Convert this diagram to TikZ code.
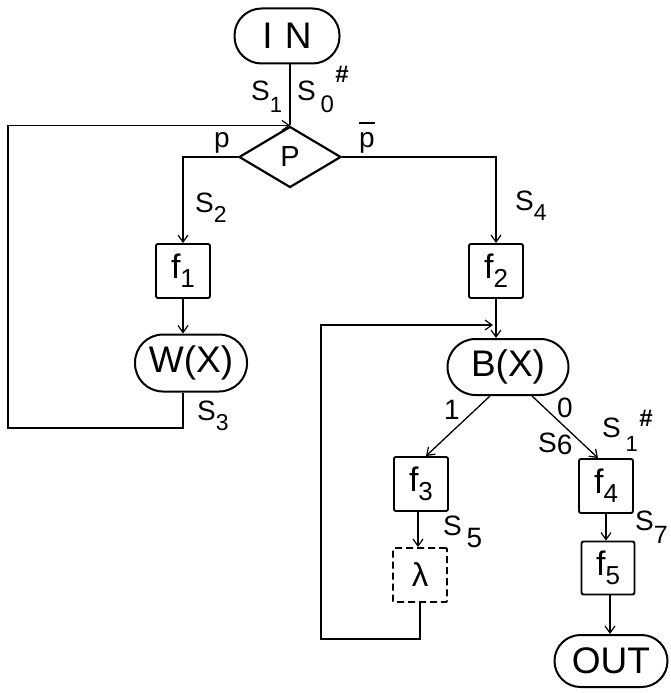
\documentclass[tikz,border=0pt]{standalone}
\usepackage{fontspec}
\setmainfont{Liberation Sans}
\usetikzlibrary{shapes.geometric,arrows.meta}
\newcommand\lowr[3]{\raisebox{-#1}{\fontsize{#2}{#2}\selectfont #3}}
\newcommand\pbar{{\setbox0\hbox{p}\rlap{\raisebox{\dimexpr\ht0+8pt\relax}{\rule{\wd0}{1.6pt}}}p}}
\begin{document}
\begin{tikzpicture}[x=1pt,y=-1pt,
  pill/.style={draw,line width=2pt,inner sep=0pt,font=\fontsize{37}{37}\selectfont},
  fbox/.style={draw,line width=1.9pt,rounded corners=2pt,inner sep=0pt,minimum width=54pt,minimum height=54pt,font=\fontsize{34}{34}\selectfont},
  dia/.style={draw,diamond,line width=2.2pt,inner sep=0pt,minimum width=102pt,minimum height=61pt,font=\fontsize{29}{29}\selectfont},
  conn/.style={line width=1.3pt},
  arr/.style={conn,-{Straight Barb[length=7pt,width=10pt,line width=1.2pt]}},
  lbl/.style={font=\fontsize{28}{28}\selectfont,inner sep=0pt},
  hash/.style={font=\fontsize{24}{24}\selectfont\bfseries,inner sep=0pt},
]
\useasboundingbox (0,0) rectangle (670,693);

% nodes
\node[pill,rounded corners=27pt,minimum width=105pt,minimum height=55pt] (IN) at (287,36) {I\,\,N};
\node[dia] (P) at (290,157) {P};
\node[fbox] (f1) at (183,271) {f\lowr{9pt}{26}{1}};
\node[pill,rounded corners=28pt,minimum width=112pt,minimum height=57pt] (WX) at (191,363) {W(X)};
\node[fbox] (f2) at (496,271) {f\lowr{9pt}{26}{2}};
\node[pill,rounded corners=28pt,minimum width=121pt,minimum height=56pt] (BX) at (508,367) {B(X)};
\node[fbox] (f3) at (421,484) {f\lowr{9pt}{26}{3}};
\node[fbox] (f4) at (606,486) {f\lowr{9pt}{26}{4}};
\node[fbox,dashed,dash pattern=on 7pt off 4pt,rounded corners=1pt,font=\fontsize{33}{33}\selectfont] (lam) at (420,575) {λ};
\node[fbox,minimum width=53pt,minimum height=53pt] (f5) at (608,568) {f\lowr{9pt}{26}{5}};
\node[pill,rounded corners=26pt,minimum width=113pt,minimum height=52pt] (OUT) at (611,661) {OUT};

\coordinate (lb1) at (8,428);
\coordinate (lb2) at (321,639);
\coordinate (j2) at (493,325);

% connectors
\draw[conn] (IN.south -| P.north) -- (P.north);
\draw[arr] (WX.south -| f1.south) |- (lb1) |- (P.north);
\draw[arr] (P.west) -| (f1.north);
\draw[arr] (P.east) -| (f2.north);
\draw[arr] (f1.south) -- (f1.south |- WX.north);
\draw[arr] (f2.south) -- (f2.south |- BX.north);
\draw[arr] ([xshift=-18pt]BX.south) -- ([xshift=5pt]f3.north);
\draw[arr] ([xshift=24pt]BX.south) -- ([xshift=-8pt]f4.north);
\draw[arr] ([xshift=-3pt]f3.south) -- ([xshift=-3pt]f3.south |- lam.north);
\draw[arr] (lam.south) |- (lb2) |- (j2);
\draw[arr] (f4.south) -- (f4.south |- f5.north);
\draw[arr] ([xshift=2pt]f5.south) -- ([xshift=2pt]f5.south |- OUT.north);

% labels
\node[lbl,anchor=base west] (lS1) at (251,100) {S\lowr{12pt}{22}{1}};
\node[lbl,anchor=base west] (lS0) at (297,100) {S\,\lowr{12pt}{24}{0}};
\node[hash] (h0) at (342,74) {\#};
\node[lbl,anchor=base] (lp) at (222,147) {p};
\node[lbl,anchor=base] (lpb) at (367,147) {\pbar};
\node[lbl,anchor=base west] (lS2) at (195,212) {S\lowr{10pt}{23}{2}};
\node[lbl,anchor=base west] (lS4) at (515,210) {S\lowr{10pt}{23}{4}};
\node[lbl,anchor=base west] (lS3) at (197,420) {S\lowr{10pt}{23}{3}};
\node[lbl] (l1) at (452,410) {1};
\node[lbl] (l0) at (565,408) {0};
\node[lbl,anchor=base west] (lS6) at (538,452) {S\raisebox{-2pt}{6}};
\node[lbl,anchor=base west] (lS1b) at (602,437) {S\,\lowr{14pt}{22}{1}};
\node[hash] (h1) at (646,418) {\#};
\node[lbl,anchor=base west] (lS5) at (443,535) {S\,\lowr{12pt}{28}{5}};
\node[lbl,anchor=base west] (lS7) at (635,530) {S\lowr{13pt}{25}{7}};
\end{tikzpicture}
\end{document}
